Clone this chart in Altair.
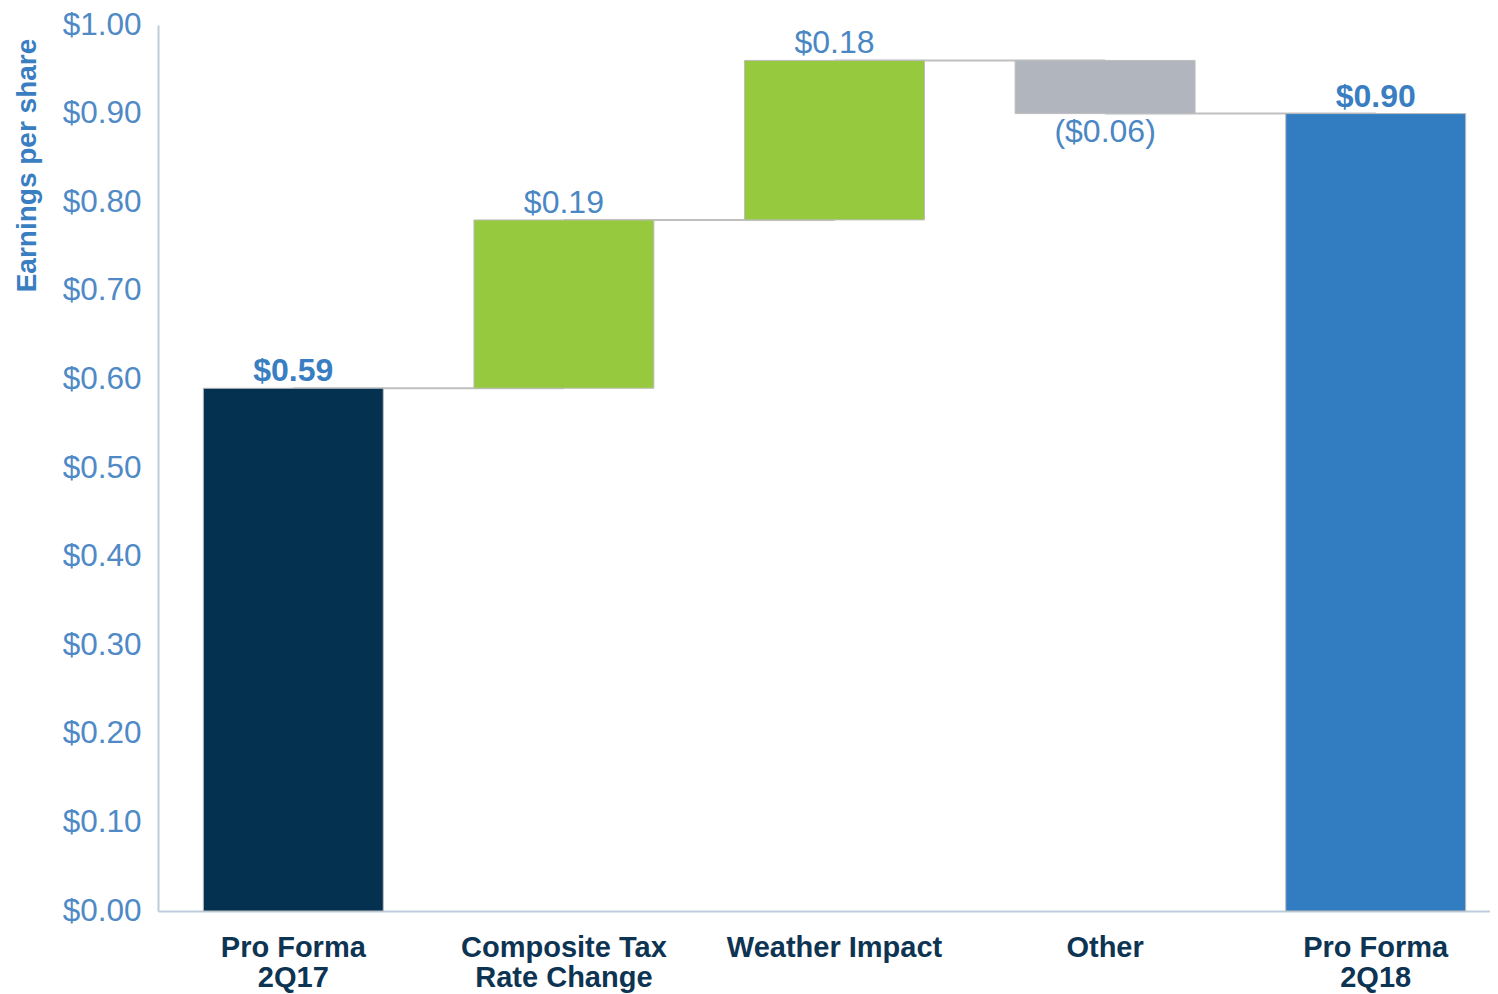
import altair as alt
import pandas as pd

categories = ["Pro Forma 2Q17", "Composite Tax Rate Change", "Weather Impact", "Other", "Pro Forma 2Q18"]
label_lines = [["Pro Forma", "2Q17"], ["Composite Tax", "Rate Change"], ["Weather Impact"], ["Other"], ["Pro Forma", "2Q18"]]
starts = [0.0, 0.59, 0.78, 0.96, 0.0]
ends = [0.59, 0.78, 0.96, 0.90, 0.90]
value_labels = ["$0.59", "$0.19", "$0.18", "($0.06)", "$0.90"]
is_total = [True, False, False, False, True]
colors = ["#03314F", "#96C93D", "#96C93D", "#B1B5BE", "#327CC1"]

df = pd.DataFrame({
    "cat": categories,
    "start": starts,
    "end": ends,
    "label": value_labels,
    "total": is_total,
    "color": colors,
})
df["up"] = df["end"] >= df["start"]
df["top"] = df[["start", "end"]].max(axis=1)
df["bottom"] = df[["start", "end"]].min(axis=1)

conn = pd.DataFrame({
    "cat": categories[:-1],
    "next": categories[1:],
    "level": ends[:-1],
})

FONT = "Liberation Sans"

label_expr = " : ".join(f"datum.label == '{c}' ? {l!r}" for c, l in zip(categories, label_lines)) + " : datum.label"

xscale = alt.Scale(domain=categories, range=[0, 1353], paddingInner=0.335, paddingOuter=0.1675)
yscale = alt.Scale(domain=[0, 1.0], nice=False)

xaxis = alt.Axis(
    title=None, labelAngle=0, labelFont=FONT, labelFontSize=29, labelFontWeight="bold",
    labelColor="#0D3452", labelPadding=22, ticks=False, domainColor="#BCCCDC", domainWidth=2,
    labelExpr=label_expr, labelLineHeight=30, labelBaseline="top", labelLimit=0,
)
yaxis = alt.Axis(
    title="Earnings per share", format="$.2f", values=[i / 10 for i in range(11)],
    labelFont=FONT, labelFontSize=31.5, labelColor="#4F8AC6", labelPadding=17, ticks=False,
    domainColor="#BCCCDC", domainWidth=2, grid=False,
    titleFont=FONT, titleFontSize=28, titleFontWeight="bold", titleColor="#3A7EC2",
    titleAngle=-90, titleX=-131, titleY=140, titleAlign="center", titleBaseline="middle",
)

rules = alt.Chart(conn).mark_rule(color="#BFBFBF", strokeWidth=2).encode(
    x=alt.X("cat:N", scale=xscale, axis=xaxis, sort=categories),
    x2="next:N",
    y=alt.Y("level:Q", scale=yscale, axis=yaxis),
)

bars = alt.Chart(df).mark_bar(stroke="#BDBDBD", strokeWidth=1).encode(
    x=alt.X("cat:N", scale=xscale, sort=categories),
    y=alt.Y("start:Q", scale=yscale),
    y2="end:Q",
    color=alt.Color("color:N", scale=None),
)

bold_labels = alt.Chart(df[df["up"] & df["total"]]).mark_text(
    font=FONT, fontSize=32, fontWeight="bold", baseline="bottom", dy=0, color="#3A7EC2"
).encode(
    x=alt.X("cat:N", scale=xscale, sort=categories),
    y=alt.Y("top:Q", scale=yscale),
    text="label:N",
)

up_labels = alt.Chart(df[df["up"] & ~df["total"]]).mark_text(
    font=FONT, fontSize=32, baseline="bottom", dy=0, color="#4A87C3"
).encode(
    x=alt.X("cat:N", scale=xscale, sort=categories),
    y=alt.Y("top:Q", scale=yscale),
    text="label:N",
)

down_labels = alt.Chart(df[~df["up"]]).mark_text(
    font=FONT, fontSize=32, baseline="top", dy=3, color="#4A87C3"
).encode(
    x=alt.X("cat:N", scale=xscale, sort=categories),
    y=alt.Y("bottom:Q", scale=yscale),
    text="label:N",
)

chart = alt.layer(rules, bars, bold_labels, up_labels, down_labels).properties(
    width=1332, height=886,
    autosize=alt.AutoSizeParams(type="none"),
    padding={"left": 150, "top": 17, "right": 0, "bottom": 83},
    background="white",
).configure_view(stroke=None)

chart.save("out.html", embed_options={"renderer": "svg", "actions": False})
